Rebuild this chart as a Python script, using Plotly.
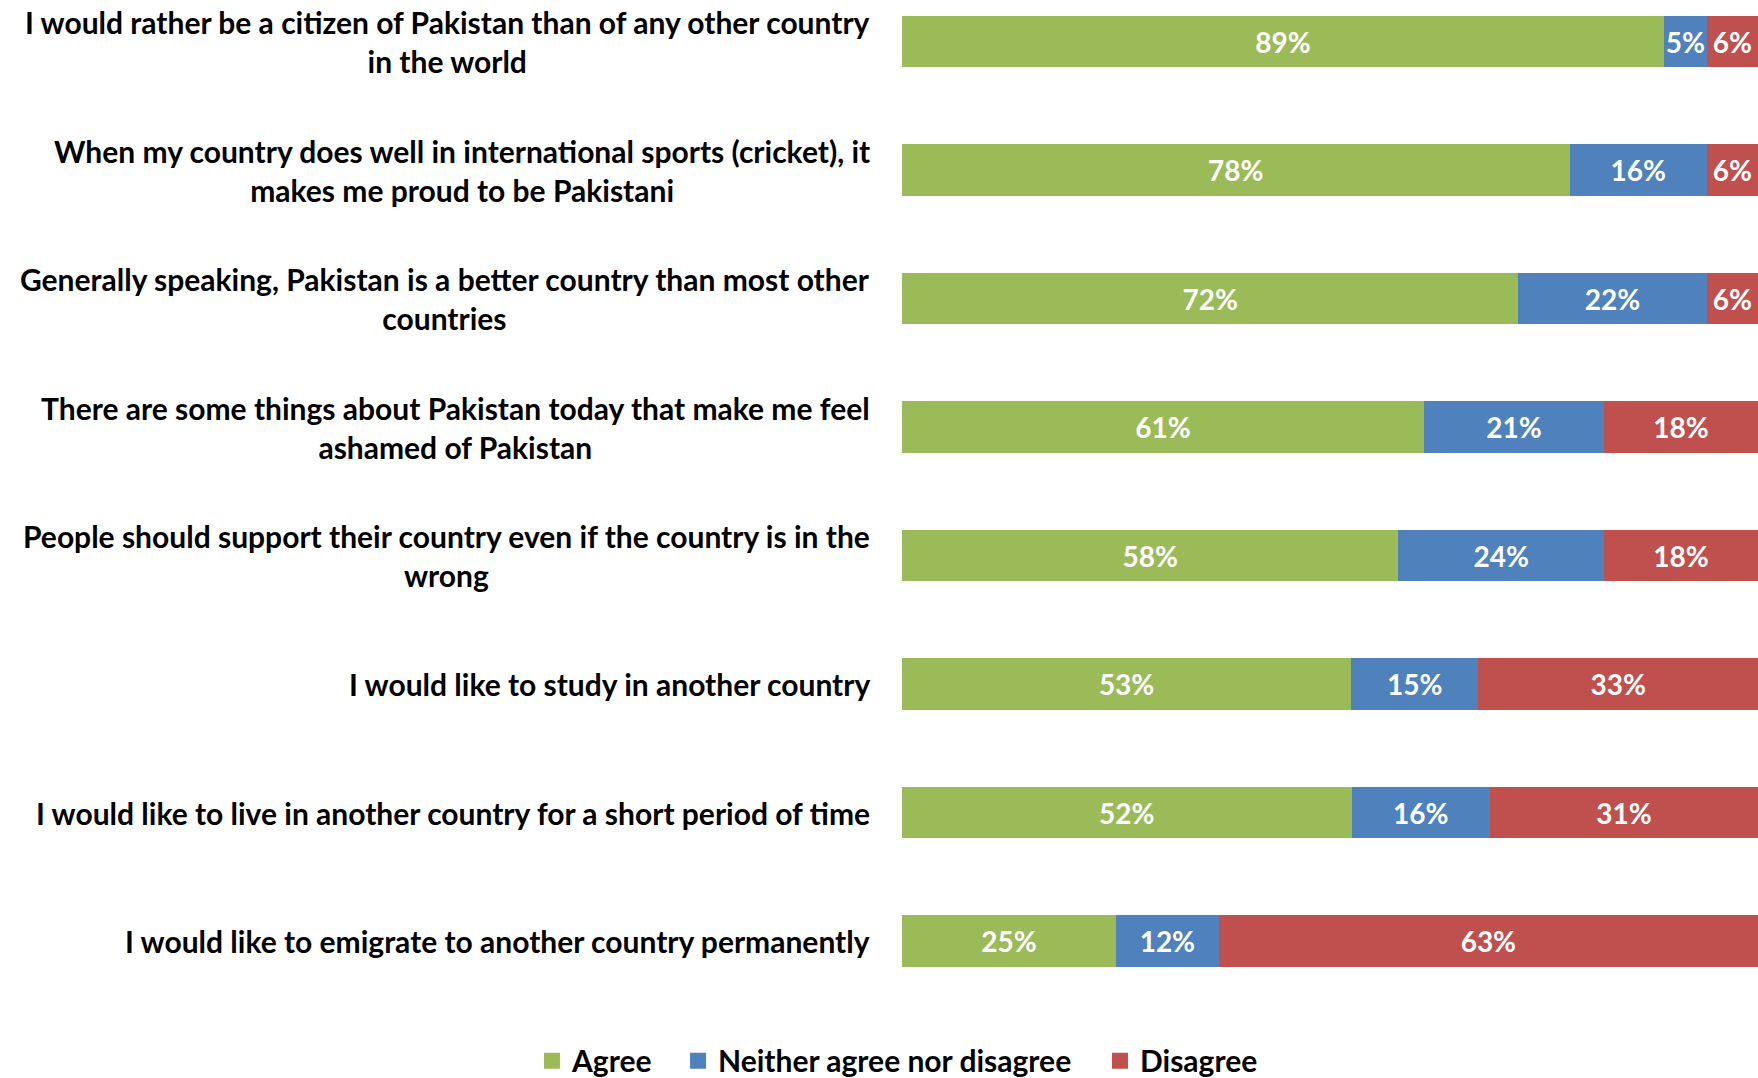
import plotly.graph_objects as go

# Survey statements (top to bottom) and response shares
statements = [
    "I would rather be a citizen of Pakistan than of any other country<br>in the world",
    "When my country does well in international sports (cricket), it<br>makes me proud to be Pakistani",
    "Generally speaking, Pakistan is a better country than most other<br>countries",
    "There are some things about Pakistan today that make me feel<br>ashamed of Pakistan",
    "People should support their country even if the country is in the<br>wrong",
    "I would like to study in another country",
    "I would like to live in another country for a short period of time",
    "I would like to emigrate to another country permanently",
]
agree = [89, 78, 72, 61, 58, 53, 52, 25]
neither = [5, 16, 22, 21, 24, 15, 16, 12]
disagree = [6, 6, 6, 18, 18, 33, 31, 63]

series = [
    ("Agree", agree, "#9BBB59"),
    ("Neither agree nor disagree", neither, "#4F81BD"),
    ("Disagree", disagree, "#C0504D"),
]

FONT = "Lato"
cats = [f"s{i}" for i in range(len(statements))]

fig = go.Figure()
for name, vals, color in series:
    fig.add_trace(go.Bar(
        y=cats,
        x=vals,
        name=name,
        legendgroup=name,
        showlegend=False,
        orientation="h",
        marker=dict(color=color, line=dict(width=0)),
        text=[f"{v}%" for v in vals],
        textposition="inside",
        insidetextanchor="middle",
        textangle=0,
        constraintext="none",
        textfont=dict(family=FONT, size=28, color="white", weight="bold"),
        hoverinfo="skip",
    ))

# One legend per series so the entries can be spaced out along the bottom
legend_ids = ["legend", "legend2", "legend3"]
legend_x = [0.3026, 0.3857, 0.6257]
for (name, vals, color), lid in zip(series, legend_ids):
    fig.add_trace(go.Scatter(
        x=[None], y=[None], mode="markers", name=name, legendgroup=name,
        legend=lid,
        marker=dict(symbol="square", size=17, color=color),
        hoverinfo="skip",
    ))

# Statement labels, right-aligned against the bars, lines centred
for c, label in zip(cats, statements):
    fig.add_annotation(
        x=0, xref="paper", y=c, yref="y",
        text=label, showarrow=False,
        xanchor="right", yanchor="middle", align="center",
        xshift=-30,
        font=dict(family=FONT, size=30, color="black", weight="bold"),
    )

legend_style = dict(
    orientation="h",
    xref="container", yref="container",
    y=0.016, xanchor="left", yanchor="middle",
    font=dict(family=FONT, size=30, color="black", weight="bold"),
    itemsizing="trace", itemwidth=30,
    bgcolor="rgba(0,0,0,0)",
)

fig.update_layout(
    width=1758, height=1078,
    barmode="stack", barnorm="percent", bargap=0.6,
    plot_bgcolor="white", paper_bgcolor="white",
    margin=dict(l=902, r=0, t=0, b=78),
    xaxis=dict(range=[0, 100], visible=False, fixedrange=True),
    yaxis=dict(range=[7.459, -0.323], showticklabels=False, showgrid=False,
               zeroline=False, showline=False, ticks=""),
    showlegend=True,
    legend=dict(x=legend_x[0], **legend_style),
    legend2=dict(x=legend_x[1], **legend_style),
    legend3=dict(x=legend_x[2], **legend_style),
    uniformtext=dict(minsize=10),
)

fig.write_html("out.html")
